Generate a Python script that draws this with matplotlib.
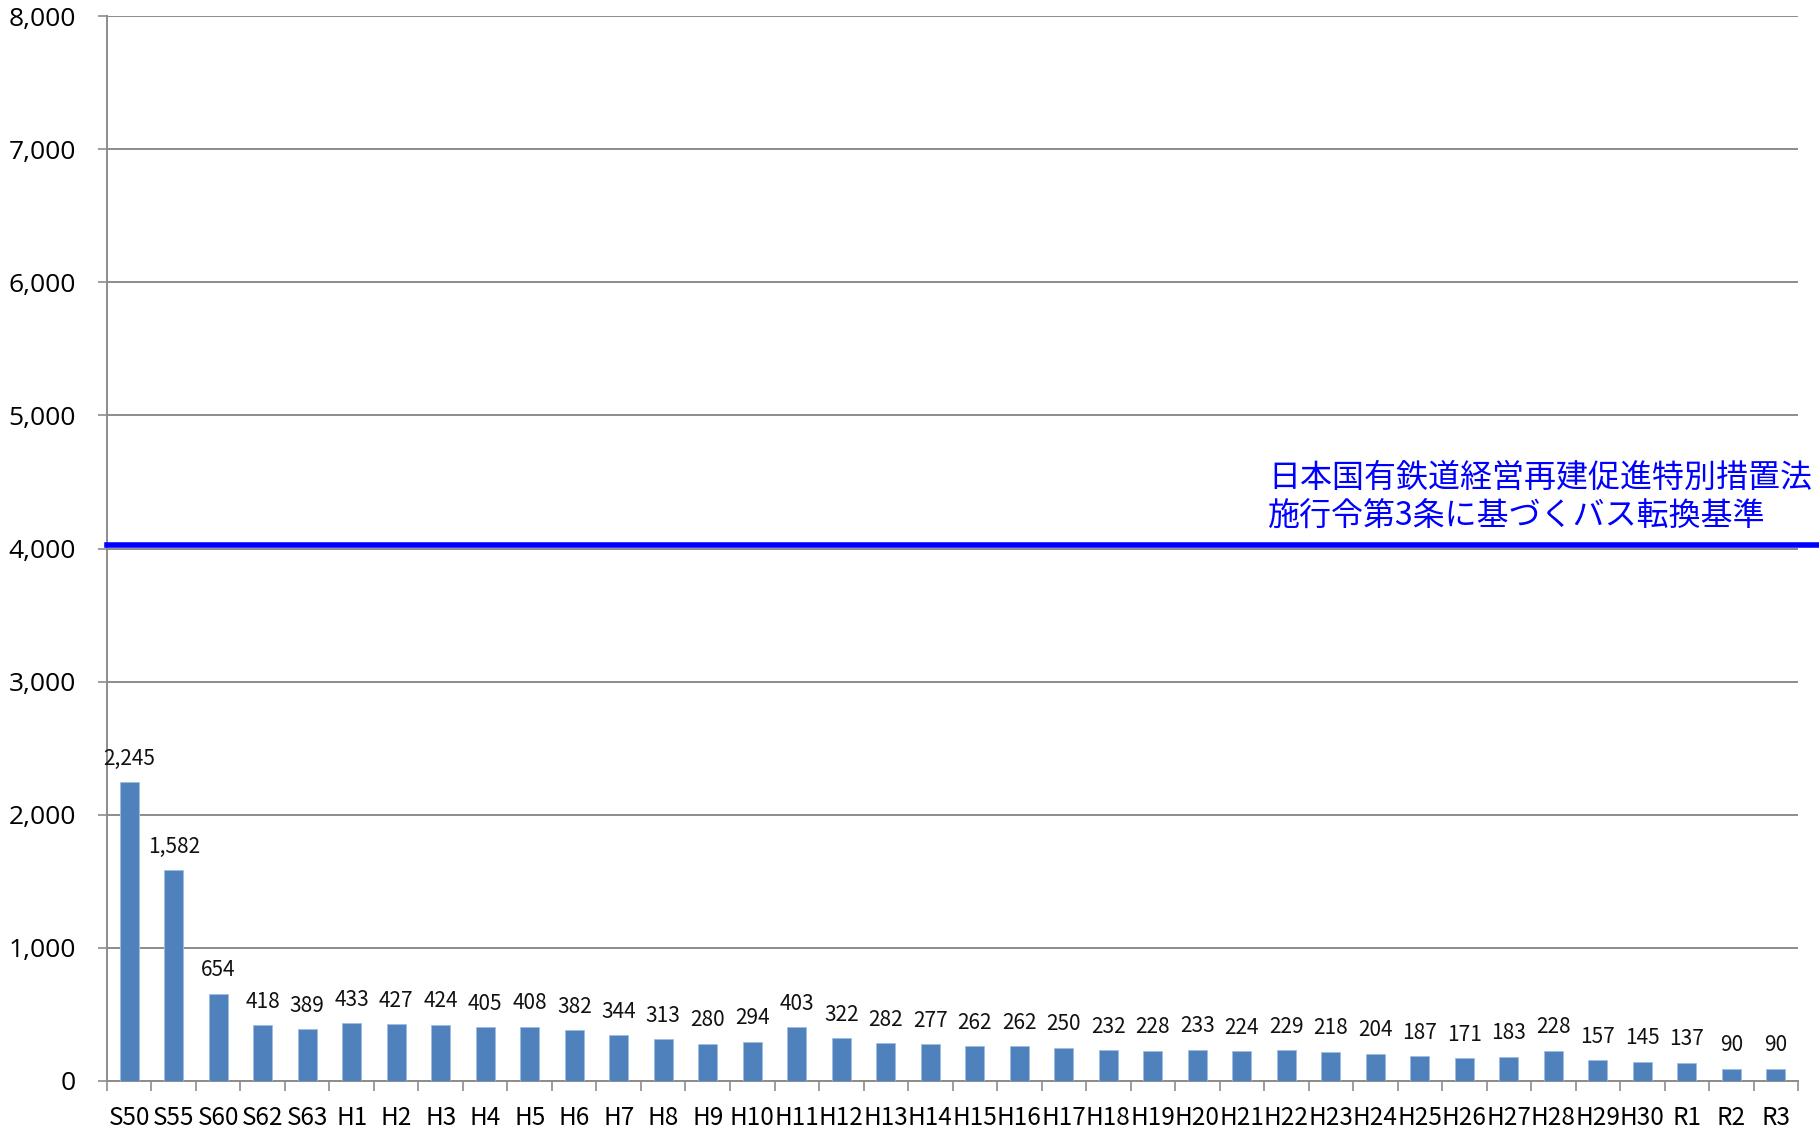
import matplotlib
matplotlib.use('Agg')
import numpy as np
from matplotlib import pyplot as plt

# Categories (fiscal years) and values
years = ['S50', 'S55', 'S60', 'S62', 'S63'] + [f'H{i}' for i in range(1, 31)] + ['R1', 'R2', 'R3']
values = [2245, 1582, 654, 418, 389, 433, 427, 424, 405, 408, 382, 344, 313, 280, 294,
          403, 322, 282, 277, 262, 262, 250, 232, 228, 233, 224, 229, 218, 204, 187,
          171, 183, 228, 157, 145, 137, 90, 90]
threshold = 4030
threshold_label = '日本国有鉄道経営再建促進特別措置法\n施行令第3条に基づくバス転換基準'
y_ticks = [0, 1000, 2000, 3000, 4000, 5000, 6000, 7000, 8000]

NARROW = ['Liberation Sans Narrow', 'Noto Sans CJK JP', 'DejaVu Sans']
GRID = '#8c8c8c'

fig = plt.figure(figsize=(18.19, 11.30), dpi=100)
ax = fig.add_axes([0.0588, 0.0434, 0.9297, 0.9424])

x = np.arange(len(years))
bars = ax.bar(x, values, width=0.42, color='#4f81bd', edgecolor='#9fbde0', linewidth=0.6, zorder=3)

# data labels above each bar
for xi, v in zip(x, values):
    ax.annotate(f'{v:,}', (xi, v), xytext=(0, 9), textcoords='offset points',
                ha='center', va='bottom', fontsize=15, family=NARROW, color='#111111')

ax.set_xlim(-0.5, len(years) - 0.5)
ax.set_ylim(0, 8000)
ax.set_yticks(y_ticks)
ax.set_yticklabels([f'{t:,}' for t in y_ticks], fontsize=19, family=['Open Sans', 'DejaVu Sans'])
ax.tick_params(axis='y', length=6.5, width=1.2, color=GRID, pad=16)

ax.set_xticks(x)
ax.set_xticklabels(years, fontsize=17.5, family=NARROW)
ax.tick_params(axis='x', which='major', length=0, pad=17)
ax.set_xticks(np.arange(-0.5, len(years)), minor=True)
ax.tick_params(axis='x', which='minor', length=7, width=1.2, color=GRID, direction='out')

ax.grid(axis='y', color=GRID, linewidth=1.4, zorder=0)
ax.set_axisbelow(True)
for side in ['top', 'right']:
    ax.spines[side].set_visible(False)
for side in ['left', 'bottom']:
    ax.spines[side].set_color(GRID)
    ax.spines[side].set_linewidth(1.4)

# bus conversion threshold line
trans = ax.get_yaxis_transform()
ax.plot([0, 1.013], [threshold, threshold], transform=trans, color='#0000ff',
        linewidth=4, clip_on=False, zorder=4)
ax.text(0.6868, threshold + 95, threshold_label, transform=trans, color='#0000ff',
        fontsize=23, family=['Noto Sans CJK JP', 'DejaVu Sans'], ha='left', va='bottom',
        linespacing=1.22)

plt.savefig('out.png', dpi=100)
